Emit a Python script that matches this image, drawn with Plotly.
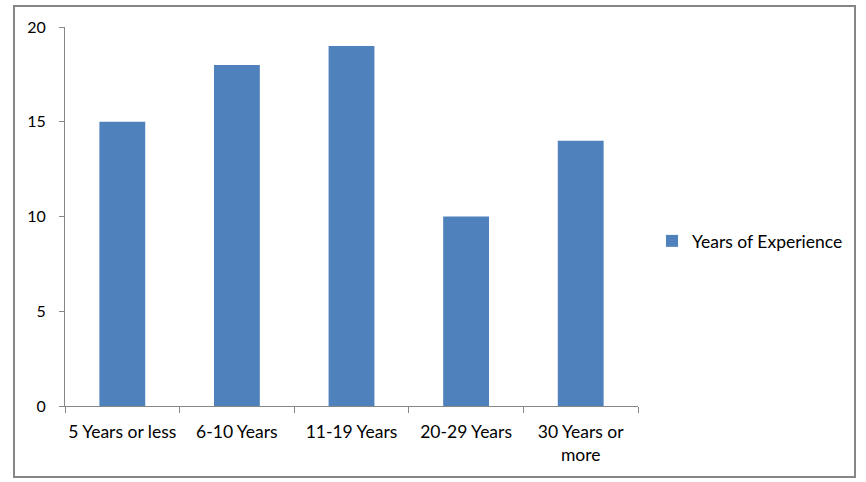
import plotly.graph_objects as go

categories = ["5 Years or less", "6-10 Years", "11-19 Years", "20-29 Years", "30 Years or<br>more"]
values = [15, 18, 19, 10, 14]
series_name = "Years of Experience"
y_ticks = [0, 5, 10, 15, 20]

W, H = 866, 482
L, R, T, B = 65, 228, 27, 76
pw, ph = W - L - R, H - T - B

def px_x(x):
    return (x - L) / pw

def px_y(y):
    return (H - B - y) / ph

fig = go.Figure()
fig.add_trace(go.Bar(
    x=categories, y=values, name=series_name,
    marker=dict(color="#4F81BD", line=dict(width=0)),
    showlegend=True,
))

font = dict(family="Lato, Open Sans, sans-serif", size=16, color="#000000")
xfont = dict(family="Lato, Open Sans, sans-serif", size=17.5, color="#000000")
axis_color = "#868686"

fig.update_layout(
    width=W, height=H,
    margin=dict(l=L, r=R, t=T, b=B, pad=0, autoexpand=False),
    paper_bgcolor="white", plot_bgcolor="white",
    font=font,
    bargap=0.6,
    showlegend=True,
    legend=dict(x=px_x(652), y=px_y(241), xanchor="left", yanchor="middle",
                font=xfont, bgcolor="rgba(0,0,0,0)", itemwidth=30),
    xaxis=dict(
        type="category", showline=True, linecolor=axis_color, linewidth=1,
        ticks="outside", tickson="boundaries", ticklen=6, tickcolor=axis_color,
        showgrid=False, zeroline=False, tickfont=xfont, ticklabelstandoff=10,
        tickangle=0, automargin=False,
    ),
    yaxis=dict(
        range=[0, 20], tickvals=y_ticks, showline=True, linecolor=axis_color,
        linewidth=1, ticks="outside", ticklen=5, tickcolor=axis_color,
        showgrid=False, zeroline=False, tickfont=font, ticklabelstandoff=10,
        automargin=False,
    ),
    shapes=[dict(type="rect", xref="paper", yref="paper",
                 x0=px_x(14), x1=px_x(855), y0=px_y(477), y1=px_y(6),
                 line=dict(color=axis_color, width=2), fillcolor="rgba(0,0,0,0)",
                 layer="below")],
)

fig.write_html("out.html")
